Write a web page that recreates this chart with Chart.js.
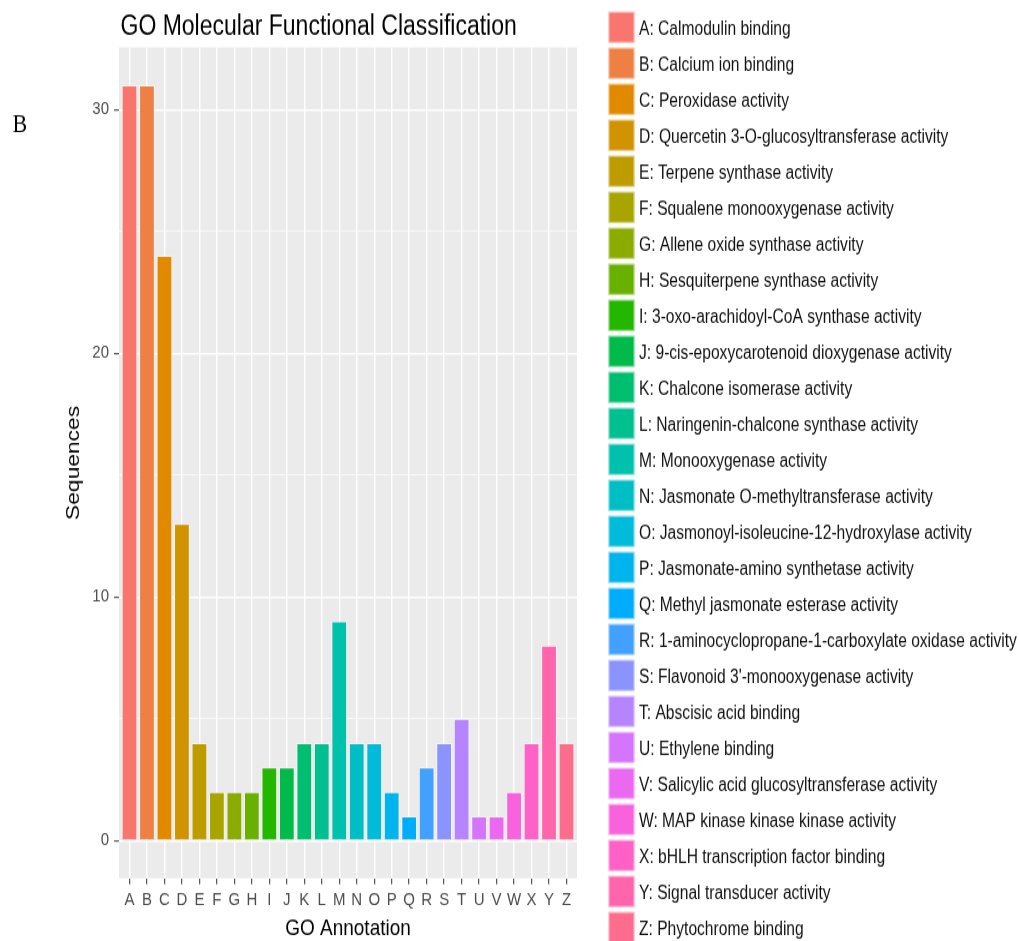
<!DOCTYPE html>
<html>
<head>
<meta charset="utf-8">
<script src="https://cdn.jsdelivr.net/npm/chart.js@4.4.1/dist/chart.umd.min.js"></script>
<style>
  html, body { margin: 0; padding: 0; background: #ffffff; overflow: hidden; }
  /* the figure is laid out at 1019x784 and shown 1.2x taller */
  #stage { position: absolute; left: 0; top: 0; width: 1019px; height: 784px;
           transform: scaleY(1.2003); transform-origin: 0 0; }
</style>
</head>
<body>
<div id="stage"><canvas id="chart"></canvas></div>
<script>
// GO annotation codes (x axis tick labels)
const categories = ['A','B','C','D','E','F','G','H','I','J','K','L','M',
                    'N','O','P','Q','R','S','T','U','V','W','X','Y','Z'];

// Molecular function names shown in the key
const functionNames = [
  'Calmodulin binding',
  'Calcium ion binding',
  'Peroxidase activity',
  'Quercetin 3-O-glucosyltransferase activity',
  'Terpene synthase activity',
  'Squalene monooxygenase activity',
  'Allene oxide synthase activity',
  'Sesquiterpene synthase activity',
  '3-oxo-arachidoyl-CoA synthase activity',
  '9-cis-epoxycarotenoid dioxygenase activity',
  'Chalcone isomerase activity',
  'Naringenin-chalcone synthase activity',
  'Monooxygenase activity',
  'Jasmonate O-methyltransferase activity',
  'Jasmonoyl-isoleucine-12-hydroxylase activity',
  'Jasmonate-amino synthetase activity',
  'Methyl jasmonate esterase activity',
  '1-aminocyclopropane-1-carboxylate oxidase activity',
  'Flavonoid 3\'-monooxygenase activity',
  'Abscisic acid binding',
  'Ethylene binding',
  'Salicylic acid glucosyltransferase activity',
  'MAP kinase kinase kinase activity',
  'bHLH transcription factor binding',
  'Signal transducer activity',
  'Phytochrome binding'
];

// Number of sequences per annotation
const sequenceCounts = [31, 31, 24, 13, 4, 2, 2, 2, 3, 3, 4, 4, 9,
                        4, 4, 2, 1, 3, 4, 5, 1, 1, 2, 4, 8, 4];

// Labelled y ticks
const yTickLabels = [0, 10, 20, 30];

// Evenly spaced hues on an HCL wheel (L = 65, C = 100), the usual qualitative palette
function hclToHex(h, c, l) {
  const hr = h * Math.PI / 180;
  const u = c * Math.cos(hr), v = c * Math.sin(hr);
  const Xn = 0.95047, Yn = 1.0, Zn = 1.08883;
  const den = Xn + 15 * Yn + 3 * Zn;
  const un = 4 * Xn / den, vn = 9 * Yn / den;
  const Y = l > 8 ? Math.pow((l + 16) / 116, 3) : l / 903.3;
  const up = u / (13 * l) + un, vp = v / (13 * l) + vn;
  const X = Y * 9 * up / (4 * vp);
  const Z = Y * (12 - 3 * up - 20 * vp) / (4 * vp);
  const lin = [
     3.2404542 * X - 1.5371385 * Y - 0.4985314 * Z,
    -0.9692660 * X + 1.8760108 * Y + 0.0415560 * Z,
     0.0556434 * X - 0.2040259 * Y + 1.0572252 * Z
  ];
  return '#' + lin.map(t => {
    t = t <= 0.0031308 ? 12.92 * t : 1.055 * Math.pow(t, 1 / 2.4) - 0.055;
    t = Math.min(1, Math.max(0, t));
    return Math.round(t * 255).toString(16).padStart(2, '0');
  }).join('');
}
const palette = categories.map((_, i) => hclToHex(15 + i * 360 / categories.length, 100, 65));

const SANS = '"Liberation Sans", Arial, sans-serif';

// grey panel behind the grid
const panelBackground = {
  id: 'panelBackground',
  beforeDraw(chart) {
    const { ctx, chartArea: a } = chart;
    ctx.save();
    ctx.fillStyle = '#EBEBEB';
    ctx.fillRect(a.left, a.top, a.right - a.left, a.bottom - a.top);
    ctx.restore();
  }
};

// title, panel tag and the colour key
const annotations = {
  id: 'annotations',
  afterDraw(chart) {
    const { ctx, chartArea: a } = chart;
    ctx.save();
    ctx.fillStyle = '#000000';
    ctx.textAlign = 'left';
    ctx.textBaseline = 'alphabetic';
    ctx.font = '23px ' + SANS;
    ctx.fillText('GO Molecular Functional Classification', a.left + 1.5, 28.8);

    ctx.font = '22px "Liberation Serif", "Times New Roman", serif';
    ctx.fillText('B', 12.5, 110.3);

    const keyX = 608.5, keyTop = 9.7, step = 30, size = 26;
    ctx.font = '15.6px ' + SANS;
    ctx.textBaseline = 'middle';
    categories.forEach((code, i) => {
      const y = keyTop + i * step;
      ctx.fillStyle = palette[i];
      ctx.fillRect(keyX, y, size, size);
      ctx.strokeStyle = 'rgba(255,255,255,0.55)';
      ctx.lineWidth = 1;
      ctx.strokeRect(keyX + 0.5, y + 0.5, size - 1, size - 1);
      ctx.fillStyle = '#111111';
      ctx.fillText(code + ': ' + functionNames[i], 639, y + size / 2 + 2);
    });
    ctx.restore();
  }
};

new Chart(document.getElementById('chart'), {
  type: 'bar',
  data: {
    datasets: [{
      data: sequenceCounts.map((v, i) => ({ x: i + 1, y: v })),
      backgroundColor: palette,
      borderColor: 'rgba(255,248,244,0.75)',
      borderWidth: 1,
      borderSkipped: 'start',
      categoryPercentage: 1.0,
      barPercentage: 0.9
    }]
  },
  options: {
    responsive: true,
    maintainAspectRatio: false,
    animation: false,
    layout: { padding: { top: 39.5, right: 442, left: 0, bottom: 0 } },
    plugins: {
      legend: { display: false },
      title: { display: false },
      tooltip: { enabled: false }
    },
    scales: {
      x: {
        type: 'linear',
        min: 0.4,
        max: 26.6,
        offset: false,
        border: { display: false },
        grid: {
          offset: false,
          color: '#FFFFFF',
          lineWidth: 1.4,
          drawTicks: true,
          tickLength: 5,
          tickColor: '#333333',
          tickWidth: 1
        },
        ticks: {
          stepSize: 1,
          includeBounds: false,
          autoSkip: false,
          maxRotation: 0,
          minRotation: 0,
          padding: 4.5,
          color: '#4D4D4D',
          font: { family: SANS, size: 15 },
          callback: (v) => categories[Math.round(v) - 1] || ''
        },
        title: {
          display: true,
          text: 'GO Annotation',
          color: '#000000',
          font: { family: SANS, size: 19 },
          padding: { top: 0, bottom: -1.4 }
        },
        afterFit(scale) { scale.height = 52.3; }
      },
      y: {
        type: 'linear',
        min: -1.55,
        max: 32.55,
        border: { display: false },
        grid: {
          color: '#FFFFFF',
          lineWidth: (c) => (c.tick && yTickLabels.includes(c.tick.value)) ? 1.4 : 0.7,
          drawTicks: true,
          tickLength: 5,
          tickColor: (c) => (c.tick && yTickLabels.includes(c.tick.value)) ? '#333333' : 'rgba(0,0,0,0)',
          tickWidth: 1
        },
        ticks: {
          stepSize: 5,
          includeBounds: false,
          padding: 5,
          color: '#4D4D4D',
          font: { family: SANS, size: 15 },
          callback: (v) => yTickLabels.includes(v) ? String(v) : ''
        },
        title: {
          display: true,
          text: 'Sequences',
          color: '#000000',
          font: { family: SANS, size: 19 },
          padding: { top: 62, bottom: 0 }
        },
        afterFit(scale) { scale.width = 119; }
      }
    }
  },
  plugins: [panelBackground, annotations]
});
</script>
</body>
</html>
